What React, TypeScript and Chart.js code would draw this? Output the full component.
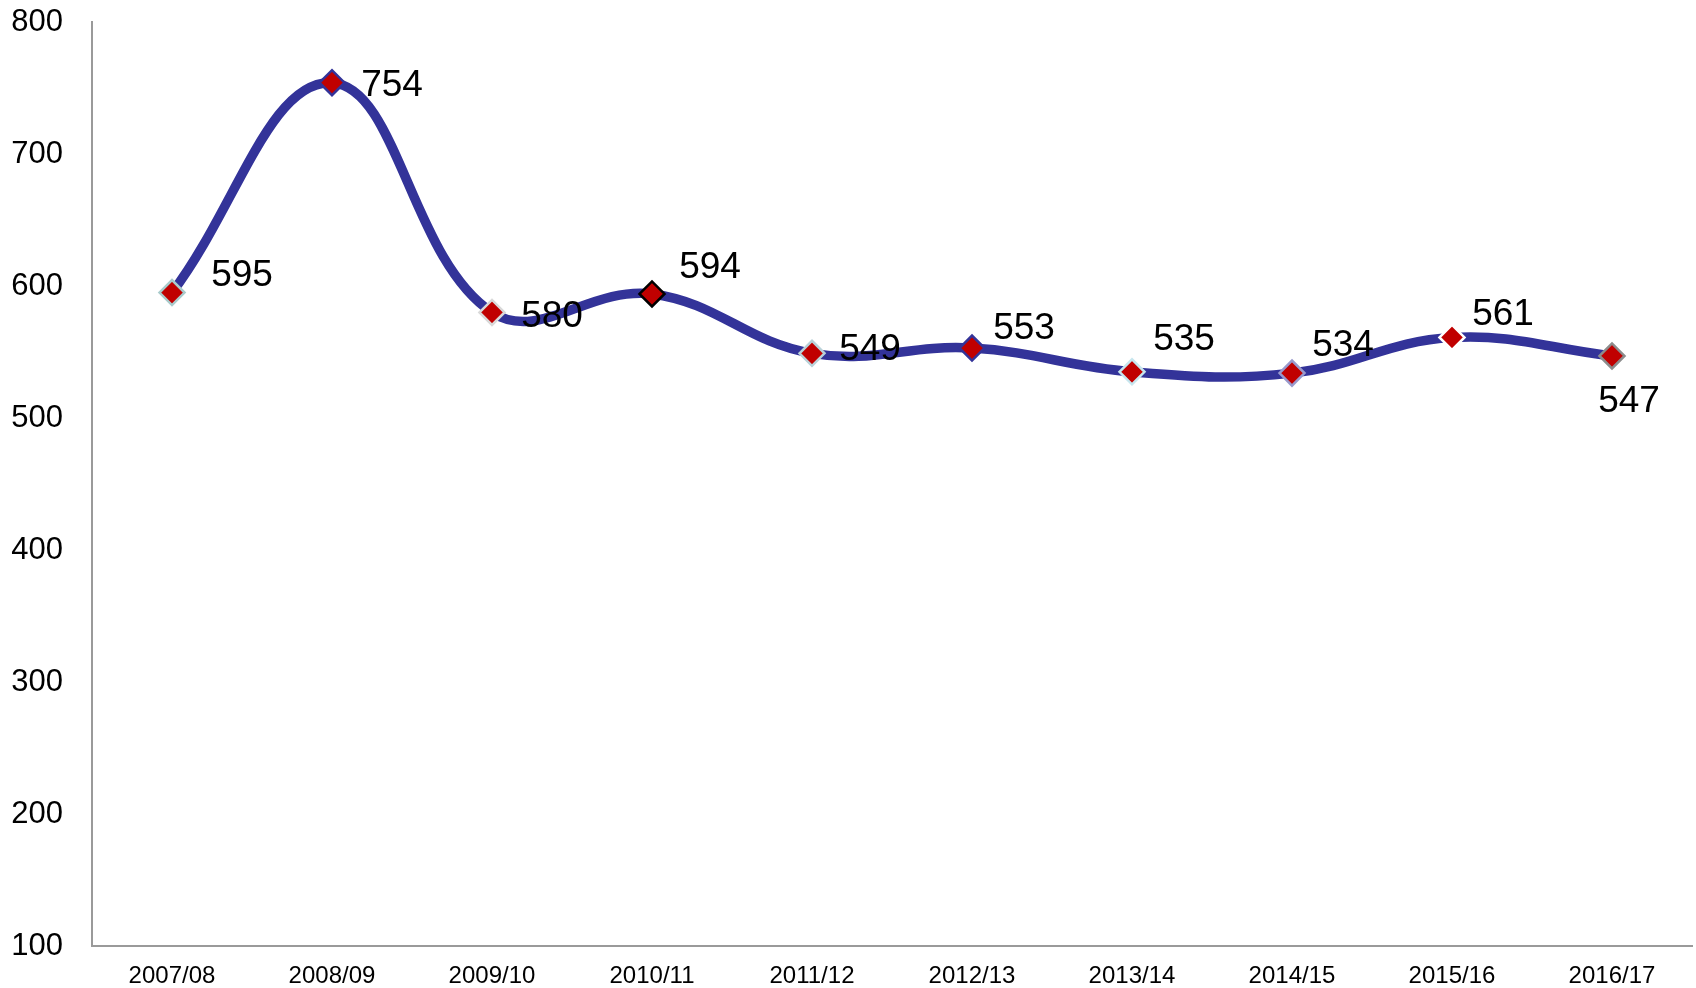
import React, { useEffect, useRef } from "react";
import { Chart, registerables } from "chart.js";

Chart.register(...registerables);

const categories = ["2007/08", "2008/09", "2009/10", "2010/11", "2011/12", "2012/13", "2013/14", "2014/15", "2015/16", "2016/17"];
const values = [595, 754, 580, 594, 549, 553, 535, 534, 561, 547];
const yTicks = [100, 200, 300, 400, 500, 600, 700, 800];

// styling (not data)
const markerBorders = ["#a9cbcc", "#333399", "#d9d9d9", "#000000", "#b9d1d8", "#333399", "#c6e6ee", "#9999cc", "#ffffff", "#8c8c8c"];
const labelOffsets: [number, number][] = [
  [70, -17], [60, 3], [60, 4], [58, -26], [58, -4], [52, -19], [52, -32], [51, -27], [51, -23], [17, 46],
];

const FONT = "'Liberation Sans', Arial, Helvetica, sans-serif";

const labelPlugin = {
  id: "valueLabels",
  afterDatasetsDraw(chart: any) {
    const ctx = chart.ctx;
    const meta = chart.getDatasetMeta(0);
    ctx.save();
    ctx.font = `37px ${FONT}`;
    ctx.fillStyle = "#000000";
    ctx.textAlign = "center";
    ctx.textBaseline = "middle";
    meta.data.forEach((pt: any, i: number) => {
      const [dx, dy] = labelOffsets[i];
      ctx.fillText(String(values[i]), pt.x + dx, pt.y + dy);
    });
    ctx.restore();
  },
};

export default function App() {
  const ref = useRef<HTMLCanvasElement | null>(null);
  useEffect(() => {
    document.body.style.margin = "0";
    const canvas = ref.current!;
    const chart = new Chart(canvas, {
      type: "line",
      data: {
        labels: categories,
        datasets: [
          {
            data: values,
            borderColor: "#333399",
            borderWidth: 9.5,
            tension: 0.4,
            fill: false,
            pointStyle: "rectRot",
            pointRadius: 12.5,
            pointBackgroundColor: "#c00000",
            pointBorderColor: markerBorders,
            pointBorderWidth: 2.5,
          },
        ],
      },
      options: {
        responsive: false,
        animation: false,
        layout: { autoPadding: false, padding: { top: 22, right: 4, left: 0, bottom: 0 } },
        plugins: { legend: { display: false }, tooltip: { enabled: false } },
        scales: {
          x: {
            offset: true,
            grid: { display: false, drawTicks: false },
            border: { display: true, color: "#9a9a9a", width: 2 },
            ticks: { color: "#000000", font: { family: FONT, size: 24 }, padding: 16, maxRotation: 0, autoSkip: false },
            afterFit: (s: any) => {
              s.height = 42;
              s.paddingLeft = 0;
              s.paddingRight = 0;
            },
          },
          y: {
            min: 100,
            max: 800,
            afterBuildTicks: (s: any) => { s.ticks = yTicks.map((v) => ({ value: v })); },
            grid: { display: false, drawTicks: false },
            border: { display: true, color: "#9a9a9a", width: 2 },
            ticks: { color: "#000000", font: { family: FONT, size: 31 }, padding: 29 },
            afterFit: (s: any) => {
              s.width = 92;
              s.paddingTop = 0;
              s.paddingBottom = 0;
            },
          },
        },
      },
      plugins: [labelPlugin],
    });
    return () => chart.destroy();
  }, []);
  return (
    <div style={{ width: 1696, height: 988 }}>
      <canvas ref={ref} width={1696} height={988} style={{ display: "block" }} />
    </div>
  );
}
